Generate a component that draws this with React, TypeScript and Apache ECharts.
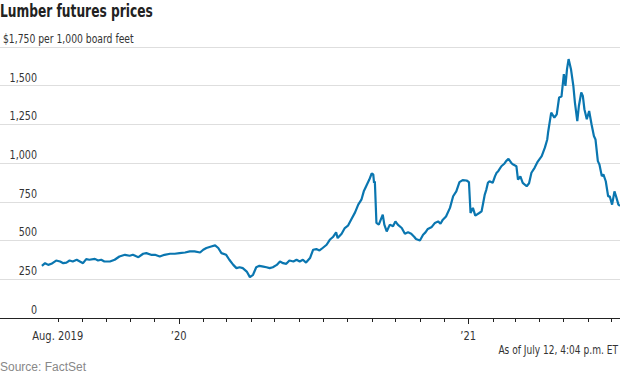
import React, { useEffect, useRef } from "react";
import * as echarts from "echarts";

const dates = [
  "2019-07-12","2019-07-16","2019-07-20","2019-07-24","2019-07-30","2019-08-04","2019-08-08","2019-08-12","2019-08-16","2019-08-20",
  "2019-08-25","2019-08-29","2019-09-02","2019-09-06","2019-09-10","2019-09-17","2019-09-21","2019-09-25","2019-09-29","2019-10-06",
  "2019-10-12","2019-10-18","2019-10-25","2019-10-31","2019-11-04","2019-11-11","2019-11-17","2019-11-21","2019-11-27","2019-12-02",
  "2019-12-08","2019-12-14","2019-12-21","2019-12-27","2020-01-02","2020-01-09","2020-01-15","2020-01-21","2020-01-28","2020-02-01",
  "2020-02-05","2020-02-11","2020-02-16","2020-02-20","2020-02-24","2020-03-01","2020-03-05","2020-03-10","2020-03-14","2020-03-18",
  "2020-03-22","2020-03-27","2020-03-31","2020-04-04","2020-04-08","2020-04-12","2020-04-17","2020-04-21","2020-04-25","2020-04-29",
  "2020-05-04","2020-05-08","2020-05-12","2020-05-16","2020-05-20","2020-05-25","2020-05-29","2020-06-02","2020-06-06","2020-06-10",
  "2020-06-15","2020-06-19","2020-06-23","2020-06-27","2020-07-01","2020-07-06","2020-07-10","2020-07-14","2020-07-18","2020-07-20",
  "2020-07-25","2020-07-29","2020-08-02","2020-08-06","2020-08-11","2020-08-15","2020-08-19","2020-08-22","2020-08-25","2020-08-29",
  "2020-09-01","2020-09-03","2020-09-04","2020-09-05","2020-09-07","2020-09-10","2020-09-15","2020-09-17","2020-09-20","2020-09-24",
  "2020-09-28","2020-10-01","2020-10-04","2020-10-09","2020-10-13","2020-10-17","2020-10-21","2020-10-25","2020-10-27","2020-11-01",
  "2020-11-05","2020-11-08","2020-11-11","2020-11-16","2020-11-20","2020-11-24","2020-11-27","2020-11-30","2020-12-04","2020-12-09",
  "2020-12-13","2020-12-17","2020-12-21","2020-12-25","2020-12-30","2021-01-02","2021-01-04","2021-01-07","2021-01-10","2021-01-15",
  "2021-01-18","2021-01-20","2021-01-22","2021-01-24","2021-01-26","2021-01-28","2021-01-30","2021-02-01","2021-02-04","2021-02-06",
  "2021-02-08","2021-02-12","2021-02-16","2021-02-18","2021-02-21","2021-02-25","2021-02-27","2021-03-03","2021-03-05","2021-03-08",
  "2021-03-11","2021-03-16","2021-03-19","2021-03-22","2021-03-26","2021-03-30","2021-04-04","2021-04-08","2021-04-11","2021-04-12",
  "2021-04-16","2021-04-20","2021-04-23","2021-04-26","2021-04-29","2021-05-02","2021-05-04","2021-05-06","2021-05-08","2021-05-11",
  "2021-05-14","2021-05-16","2021-05-19","2021-05-21","2021-05-24","2021-05-26","2021-05-28","2021-05-31","2021-06-03","2021-06-06",
  "2021-06-09","2021-06-11","2021-06-14","2021-06-16","2021-06-19","2021-06-21","2021-06-24","2021-06-27","2021-06-29","2021-07-02",
  "2021-07-05","2021-07-07","2021-07-10","2021-07-12",
];

const prices = [
  337,354,343,350,371,365,354,358,371,365,
  376,365,354,380,376,382,371,376,365,365,
  376,397,408,402,408,393,415,419,408,408,
  397,408,415,415,419,423,430,430,423,441,
  452,462,469,452,419,408,376,343,322,328,
  322,300,264,279,328,337,332,328,322,328,
  343,365,354,350,371,365,376,365,376,358,
  387,441,445,436,452,473,505,523,553,516,
  544,581,596,635,682,732,764,818,851,894,
  933,927,873,883,614,603,667,603,559,603,
  592,624,603,581,544,553,544,523,510,501,
  538,553,575,588,614,624,609,635,656,711,
  786,818,877,890,888,877,678,711,661,678,
  689,743,797,829,873,883,878,873,916,938,
  948,980,998,1013,1028,998,991,980,894,914,
  873,851,870,938,970,1010,1045,1100,1153,1196,
  1326,1294,1315,1424,1430,1575,1499,1607,1672,1607,
  1499,1391,1272,1369,1456,1434,1348,1283,1337,1251,
  1175,1153,1013,991,916,927,883,786,786,732,
  818,786,732,725,
];

const axisStart = "2019-05-20";
const axisEnd = "2021-07-12";

const yTicks = [0, 250, 500, 750, 1000, 1250, 1500, 1750];
const yTickLabels = ["0", "250", "500", "750", "1,000", "1,250", "1,500", "$1,750 per 1,000 board feet"];

const monthTicks = [
  "2019-08-01","2019-09-01","2019-10-01","2019-11-01","2019-12-01",
  "2020-01-01","2020-02-01","2020-03-01","2020-04-01","2020-05-01","2020-06-01",
  "2020-07-01","2020-08-01","2020-09-01","2020-10-01","2020-11-01","2020-12-01",
  "2021-01-01","2021-02-01","2021-03-01","2021-04-01","2021-05-01","2021-06-01","2021-07-01",
];
const monthLabels = [
  "Aug. 2019","","","","",
  "\u201920","","","","","",
  "","","","","","",
  "\u201921","","","","","","",
];

const FONT = "'Liberation Sans Narrow', 'DejaVu Sans Condensed', 'Roboto Condensed', sans-serif";
const BLUE = "#0a76b0";

export default function App() {
  const ref = useRef<HTMLDivElement>(null);
  useEffect(() => {
    const chart = echarts.init(ref.current!, null, { renderer: "svg" });
    chart.setOption({
      animation: false,
      backgroundColor: "#fff",
      grid: { left: 0, right: 0, top: 47, bottom: 57 },
      xAxis: {
        type: "time",
        min: axisStart,
        max: axisEnd,
        axisLine: { show: true, lineStyle: { color: "#222", width: 1 } },
        axisTick: { show: false },
        axisLabel: { show: false },
        splitLine: { show: false },
      },
      yAxis: {
        type: "value",
        min: yTicks[0],
        max: yTicks[yTicks.length - 1],
        interval: 250,
        position: "left",
        axisLine: { show: false },
        axisTick: { show: false },
        splitLine: { show: true, lineStyle: { color: "#dedede", width: 1 } },
        axisLabel: { show: false },
      },
      graphic: [
        {
          type: "text",
          x: 0,
          y: 3,
          scaleX: 0.8,
          style: { text: "Lumber futures prices", fill: "#222", font: `bold 17px ${FONT}` },
        },
        {
          type: "text",
          x: 618,
          y: 350,
          scaleX: 0.84,
          style: {
            text: "As of July 12, 4:04 p.m. ET",
            fill: "#333",
            font: `12px ${FONT}`,
            align: "right",
            verticalAlign: "middle",
          },
        },
        {
          type: "text",
          x: 0,
          y: 367,
          style: {
            text: "Source: FactSet",
            fill: "#888",
            font: "12px 'Liberation Sans', Arial, sans-serif",
            verticalAlign: "middle",
          },
        },
      ],
      series: [
        {
          type: "line",
          data: dates.map((d, i) => [d, prices[i]]),
          showSymbol: false,
          symbol: "none",
          lineStyle: { color: BLUE, width: 2.2 },
          itemStyle: { color: BLUE },
          z: 5,
        },
        {
          type: "custom",
          silent: true,
          z: 10,
          data: yTicks.map((v) => [axisStart, v]),
          encode: { x: 0, y: 1 },
          renderItem: (params: any, api: any) => {
            const i = params.dataIndex;
            const pt = api.coord([api.value(0), api.value(1)]);
            const top = i === yTicks.length - 1;
            return {
              type: "text",
              x: top ? pt[0] + 3 : pt[0] + 37,
              y: pt[1] - 2,
              scaleX: top ? 0.79 : 0.82,
              style: {
                text: yTickLabels[i],
                align: top ? "left" : "right",
                verticalAlign: "bottom",
                fill: "#333",
                font: `13px ${FONT}`,
              },
            };
          },
        },
        {
          type: "custom",
          silent: true,
          z: 10,
          data: monthTicks.map((d) => [d, 0]),
          encode: { x: 0, y: 1 },
          renderItem: (params: any, api: any) => {
            const i = params.dataIndex;
            const pt = api.coord([api.value(0), 0]);
            const x = Math.round(pt[0]) + 0.5;
            const y = Math.round(pt[1]);
            const major = monthLabels[i].indexOf("\u2019") === 0;
            const children: any[] = [
              {
                type: "line",
                shape: { x1: x, y1: y, x2: x, y2: y + (major ? 6 : 4) },
                style: { stroke: "#222", lineWidth: 1 },
              },
            ];
            if (monthLabels[i]) {
              children.push({
                type: "text",
                x: pt[0],
                y: y + 18,
                scaleX: 0.92,
                style: {
                  text: monthLabels[i],
                  align: "center",
                  verticalAlign: "middle",
                  fill: "#333",
                  font: `12px ${FONT}`,
                },
              });
            }
            return { type: "group", children };
          },
        },
      ],
    });
    return () => chart.dispose();
  }, []);
  return (
    <div
      ref={ref}
      style={{ position: "fixed", left: 0, top: 0, width: 620, height: 375, background: "#fff" }}
    />
  );
}
